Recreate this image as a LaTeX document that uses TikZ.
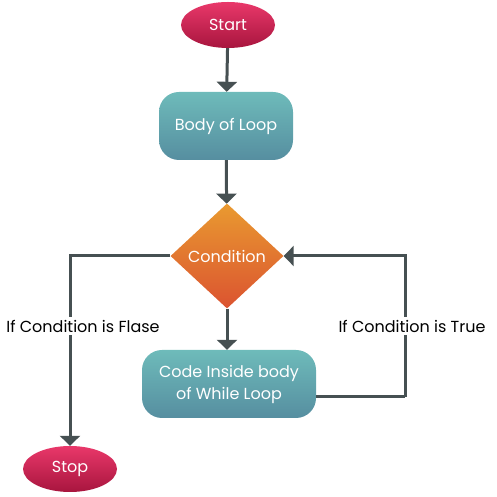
\documentclass[tikz,border=0pt]{standalone}
\usepackage{fontspec}
\setmainfont{Poppins}
\usetikzlibrary{arrows.meta, positioning, shapes.geometric}
\definecolor{lineGrey}{HTML}{465052}
\definecolor{termTop}{HTML}{E9386A}
\definecolor{termBottom}{HTML}{A8153E}
\definecolor{procTop}{HTML}{6EBBBA}
\definecolor{procBottom}{HTML}{568EA0}
\definecolor{condTop}{HTML}{E99A30}
\definecolor{condBottom}{HTML}{DB5330}
\tikzset{%
	terminal/.style={
		ellipse,
		minimum width=94pt,
		minimum height=46pt,
		inner sep=0pt,
		top color=termTop,
		bottom color=termBottom,
		text=white,
		font=\fontsize{16}{19}\selectfont
	},
	process/.style={
		rectangle,
		rounded corners=20pt,
		minimum width=134pt,
		minimum height=68pt,
		top color=procTop,
		bottom color=procBottom,
		text=white,
		align=center,
		font=\fontsize{16}{22}\selectfont
	},
	decision/.style={
		diamond,
		minimum width=113pt,
		minimum height=105pt,
		inner sep=0pt,
		top color=condTop,
		bottom color=condBottom,
		text=white,
		font=\fontsize{16}{19}\selectfont
	},
	flow/.style={
		draw=lineGrey,
		line width=3pt,
		-{Triangle[width=20pt,length=10pt]}
	},
	link/.style={
		draw=lineGrey,
		line width=3pt
	},
	branch label/.style={
		fill=white,
		inner sep=3pt,
		text=black,
		font=\fontsize{16}{19}\selectfont
	},
}

\begin{document}
\begin{tikzpicture}[x=1pt,y=1pt]
	\useasboundingbox (0,0) rectangle (497,497);
	
	% Draw the blocks
	\node[terminal] (start) at (228,472) {Start};
	\node[process] (body) at (226,371) {Body of Loop};
	\node[decision] (cond) at (227,241) {Condition};
	\node[process, minimum width=174pt] (code) at (229,113) {Code Inside body\\of While Loop};
	\node[terminal] (stop) at (70,28) {Stop};
	
	% Draw arrows down the middle
	\draw[flow] (start) -- (body);
	\draw[flow] (body) -- (cond);
	\draw[flow] (cond.south) -- (cond.south |- code.north);
	
	% Draw the two branches
	\draw[flow] (cond.west) -| (stop.north);
	\draw[link] ([yshift=-13pt]code.east) -- ++(89,0) coordinate (turn);
	\draw[flow] (turn) |- (cond.east);
	
	% Branch labels
	\node[branch label] (false) at (83,171) {If Condition is Flase};
	\node[branch label] (true) at (412,171) {If Condition is True};
	
\end{tikzpicture}
\end{document}
